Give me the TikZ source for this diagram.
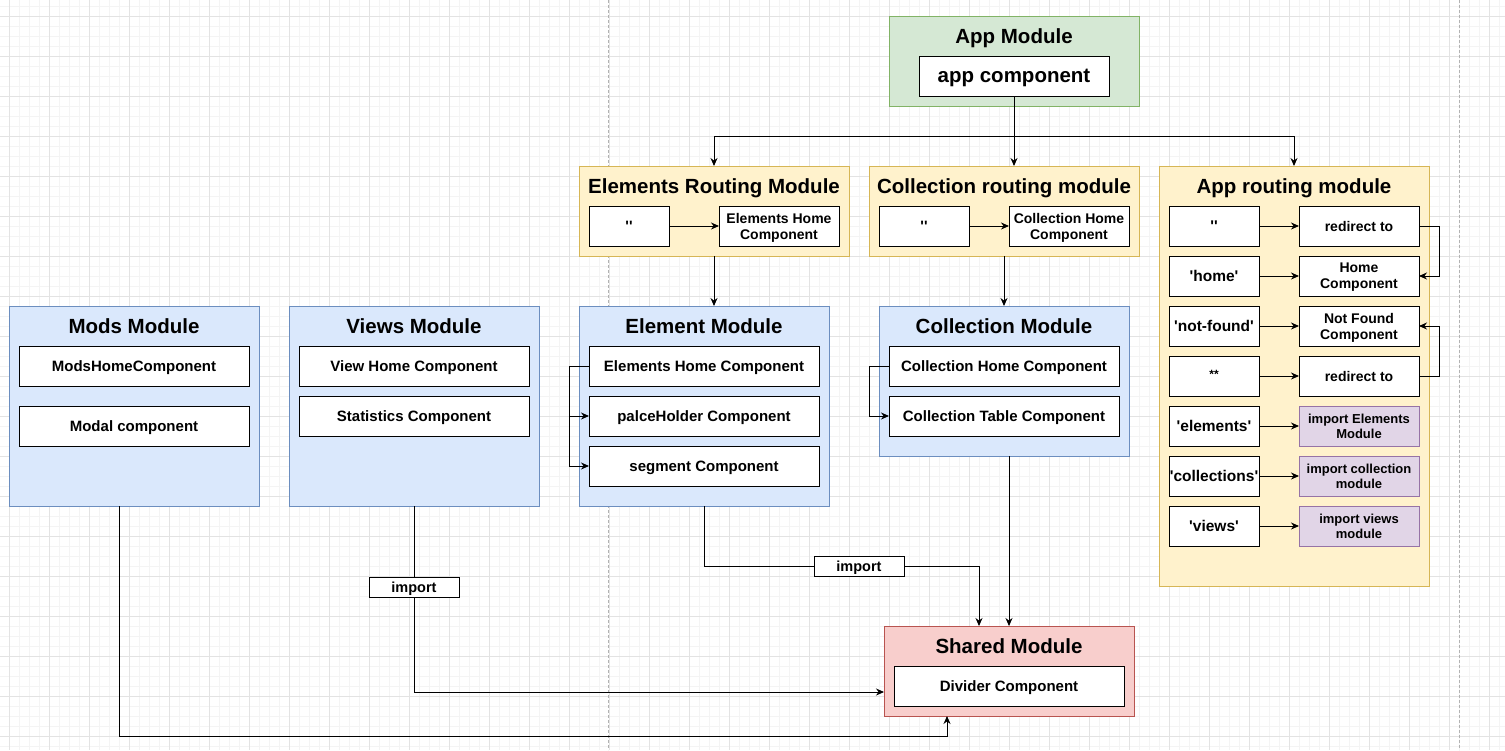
\documentclass[tikz,border=0pt]{standalone}
\usepackage{fontspec}
\setmainfont{Liberation Sans}
\usetikzlibrary{arrows.meta,calc}
\definecolor{gfill}{HTML}{D5E8D4}\definecolor{gline}{HTML}{82B366}
\definecolor{yfill}{HTML}{FFF2CC}\definecolor{yline}{HTML}{D6B656}
\definecolor{bfill}{HTML}{DAE8FC}\definecolor{bline}{HTML}{6C8EBF}
\definecolor{rfill}{HTML}{F8CECC}\definecolor{rline}{HTML}{B85450}
\definecolor{pfill}{HTML}{E1D5E7}\definecolor{pline}{HTML}{9673A6}
\definecolor{gridmin}{HTML}{F4F4F4}\definecolor{gridmaj}{HTML}{E3E3E3}
\newcommand\qq{\textquotesingle}
\begin{document}
\begin{tikzpicture}[x=1pt,y=-1pt,
  sz/.style 2 args={minimum width=#1pt, minimum height=#2pt},
  mod/.style={draw, line width=1pt, inner sep=0pt, outer sep=0pt, anchor=north west},
  box/.style={draw=black, line width=1pt, fill=white, inner sep=0pt, outer sep=0pt, anchor=north west, align=center, text depth=0pt, font=\bfseries\fontsize{15}{16.5}\selectfont},
  rbox/.style={box, font=\bfseries\fontsize{14}{16}\selectfont},
  lbox/.style={box, font=\bfseries\fontsize{15.5}{17}\selectfont},
  pbox/.style={box, draw=pline, fill=pfill, font=\bfseries\fontsize{13}{15}\selectfont},
  ttl/.style={inner sep=0pt, text depth=0pt, font=\bfseries\fontsize{20.5}{24}\selectfont},
  lbl/.style={draw=black, line width=1pt, fill=white, inner sep=0pt, text depth=0pt, minimum width=90pt, minimum height=20pt, font=\bfseries\fontsize{14.5}{16}\selectfont},
  ln/.style={line width=0.9pt},
  arr/.style={ln, -{Stealth[length=8pt,width=7pt]}}]
\useasboundingbox (0,0) rectangle (1505,750);
\fill[white] (0,0) rectangle (1505,750);
% grid
\foreach \x in {-1,9,...,1505} \draw[gridmin, line width=0.6pt] (\x,0) -- (\x,750);
\foreach \y in {6,16,...,750} \draw[gridmin, line width=0.6pt] (0,\y) -- (1505,\y);
\foreach \x in {9,49,...,1505} \draw[gridmaj, line width=0.8pt] (\x,0) -- (\x,750);
\foreach \y in {16,56,...,750} \draw[gridmaj, line width=0.8pt] (0,\y) -- (1505,\y);
\draw[gray!60, line width=0.7pt, dash pattern=on 3pt off 2pt] (608,0) -- (608,750);
\draw[gray!60, line width=0.7pt, dash pattern=on 3pt off 2pt] (1459,0) -- (1459,750);

% App Module
\node[mod, draw=gline, fill=gfill, sz={250}{90}] (appm) at (889,16) {};
\node[ttl] (appt) at (1014,36) {App Module};
\node[box, sz={190}{40}, font=\bfseries\fontsize{20.5}{24}\selectfont] (appc) at (919,56) {app component};

% Elements Routing Module
\node[mod, draw=yline, fill=yfill, sz={270}{90}] (elr) at (579,166) {};
\node[ttl] (elrt) at (714,186) {Elements Routing Module};
\node[box, sz={80}{40}] (elq) at (589,206) {\qq\qq};
\node[rbox, sz={120}{40}] (elh) at (719,206) {Elements Home\\Component};
\draw[arr] (elq) -- (elh);

% Collection routing module
\node[mod, draw=yline, fill=yfill, sz={270}{90}] (colr) at (869,166) {};
\node[ttl] (colrt) at (1004,186) {Collection routing module};
\node[box, sz={90}{40}] (colq) at (879,206) {\qq\qq};
\node[rbox, sz={120}{40}] (colh) at (1009,206) {Collection Home\\Component};
\draw[arr] (colq) -- (colh);

% App routing module
\node[mod, draw=yline, fill=yfill, sz={270}{420}] (apr) at (1159,166) {};
\node[ttl] (aprt) at (1294,186) {App routing module};
\node[lbox, sz={90}{40}] (r1l) at (1169,206) {\qq\qq};
\node[lbox, sz={90}{40}] (r2l) at (1169,256) {\qq home\qq};
\node[lbox, sz={90}{40}] (r3l) at (1169,306) {\qq not-found\qq};
\node[lbox, sz={90}{40}, font=\bfseries\fontsize{12}{14}\selectfont] (r4l) at (1169,356) {\raisebox{4pt}{**}};
\node[lbox, sz={90}{40}] (r5l) at (1169,406) {\qq elements\qq};
\node[lbox, sz={90}{40}] (r6l) at (1169,456) {\qq collections\qq};
\node[lbox, sz={90}{40}] (r7l) at (1169,506) {\qq views\qq};
\node[rbox, sz={120}{40}] (r1r) at (1299,206) {redirect to};
\node[rbox, sz={120}{40}] (r2r) at (1299,256) {Home\\Component};
\node[rbox, sz={120}{40}] (r3r) at (1299,306) {Not Found\\Component};
\node[rbox, sz={120}{40}] (r4r) at (1299,356) {redirect to};
\node[pbox, sz={120}{40}] (r5r) at (1299,406) {import Elements\\Module};
\node[pbox, sz={120}{40}] (r6r) at (1299,456) {import collection\\module};
\node[pbox, sz={120}{40}] (r7r) at (1299,506) {import views\\module};
\foreach \i in {1,...,7} \draw[arr] (r\i l) -- (r\i r);
\draw[arr] (r1r.east) -- ++(20,0) |- (r2r.east);
\draw[arr] (r4r.east) -- ++(20,0) |- (r3r.east);

% App module connectors
\coordinate (jn) at ($(appc.south)+(0,40)$);
\draw[ln] (appc.south) -- (jn);
\draw[arr] (jn) -| (elr.north);
\draw[arr] (jn) -- (jn |- colr.north);
\draw[arr] (jn) -| (apr.north);

% Mods Module
\node[mod, draw=bline, fill=bfill, sz={250}{200}] (mods) at (9,306) {};
\node[ttl] (modst) at (134,326) {Mods Module};
\node[box, sz={230}{40}] (mh) at (19,346) {ModsHomeComponent};
\node[box, sz={230}{40}] (mc) at (19,406) {Modal component};

% Views Module
\node[mod, draw=bline, fill=bfill, sz={250}{200}] (views) at (289,306) {};
\node[ttl] (viewst) at (414,326) {Views Module};
\node[box, sz={230}{40}] (vh) at (299,346) {View Home Component};
\node[box, sz={230}{40}] (vs) at (299,396) {Statistics Component};

% Element Module
\node[mod, draw=bline, fill=bfill, sz={250}{200}] (elm) at (579,306) {};
\node[ttl] (elmt) at (704,326) {Element Module};
\node[box, sz={230}{40}] (eh) at (589,346) {Elements Home Component};
\node[box, sz={230}{40}] (ep) at (589,396) {palceHolder Component};
\node[box, sz={230}{40}] (es) at (589,446) {segment Component};
\draw[arr] (eh.west) -- ++(-20,0) |- (ep.west);
\draw[arr] (eh.west) -- ++(-20,0) |- (es.west);
\draw[arr] (elr.south) -- (elr.south |- elm.north);

% Collection Module
\node[mod, draw=bline, fill=bfill, sz={250}{150}] (colm) at (879,306) {};
\node[ttl] (colmt) at (1004,326) {Collection Module};
\node[box, sz={230}{40}] (ch) at (889,346) {Collection Home Component};
\node[box, sz={230}{40}] (ct) at (889,396) {Collection Table Component};
\draw[arr] (ch.west) -- ++(-20,0) |- (ct.west);
\draw[arr] (colr.south) -- (colr.south |- colm.north);

% Shared Module
\node[mod, draw=rline, fill=rfill, sz={250}{90}] (sh) at (884,626) {};
\node[ttl] (sht) at (1009,646) {Shared Module};
\node[box, sz={230}{40}] (dc) at (894,666) {Divider Component};

% import labels
\node[lbl] (imp1) at (414,587) {import};
\node[lbl] (imp2) at (859,566) {import};

% connectors to Shared
\draw[arr] ([xshift=-15pt]mods.south) -- ++(0,230) -| ([xshift=63pt]sh.south west);
\draw[ln] (views.south) -- (imp1.north);
\draw[arr] (imp1.south) |- ([yshift=-21pt]sh.west);
\draw[ln] (elm.south) |- (imp2.west);
\draw[arr] (imp2.east) -| ([xshift=95pt]sh.north west);
\draw[arr] (sh.north |- colm.south) -- (sh.north);
\end{tikzpicture}
\end{document}
